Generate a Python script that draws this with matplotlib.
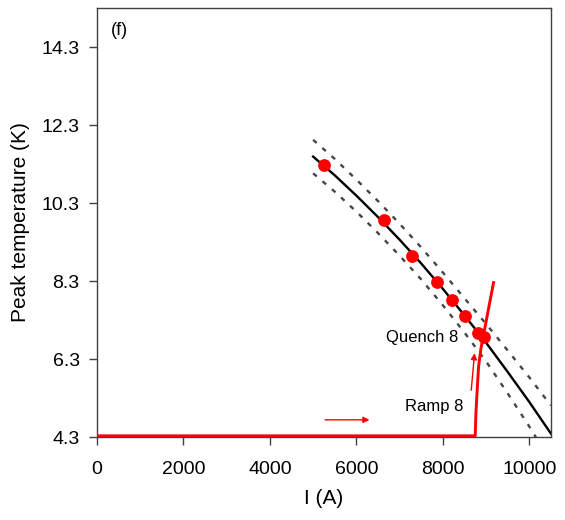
import matplotlib
matplotlib.use("Agg")
import matplotlib.pyplot as plt

plt.rcParams['font.family'] = ['Liberation Sans', 'DejaVu Sans']

# Measured peak temperatures
meas_I = [5255, 6644, 7292, 7871, 8218, 8519, 8820, 8959]
meas_T = [11.27, 9.86, 8.94, 8.27, 7.81, 7.40, 6.97, 6.86]

# Fit curve and band
fit_I = [5000, 5500, 6000, 6500, 7000, 7500, 8000, 8500, 9000, 9500, 10000, 10500]
fit_T = [11.49, 11.01, 10.49, 9.94, 9.36, 8.75, 8.10, 7.42, 6.72, 5.97, 5.20, 4.39]
upper_T = [11.92, 11.43, 10.90, 10.35, 9.77, 9.16, 8.52, 7.86, 7.20, 6.52, 5.83, 5.11]
lower_T = [11.06, 10.59, 10.08, 9.53, 8.95, 8.34, 7.68, 6.98, 6.24, 5.42, 4.57, 3.67]

# Ramp 8 trace
ramp_I = [0, 8750, 8765, 8800, 8827, 8882, 9174]
ramp_T = [4.33, 4.33, 4.9, 5.6, 6.10, 6.57, 8.26]

x_ticks = [0, 2000, 4000, 6000, 8000, 10000]
y_ticks = [4.3, 6.3, 8.3, 10.3, 12.3, 14.3]

fig = plt.figure(figsize=(5.65, 5.2), dpi=100)
ax = fig.add_axes([0.1717, 0.1596, 0.8033, 0.825])

band_style = dict(color='#454545', lw=1.7, linestyle=(0, (2.0, 3.2)))
ax.plot(fit_I, upper_T, **band_style)
ax.plot(fit_I, lower_T, **band_style)
ax.plot(fit_I, fit_T, color='black', lw=1.7, zorder=3)
ax.plot(ramp_I, ramp_T, color='red', lw=2.1, zorder=4)
ax.plot(meas_I, meas_T, 'o', color='red', ms=9.2, mec='none', zorder=5)

arrow = dict(arrowstyle='-|>', color='red', lw=1.0, mutation_scale=9,
             shrinkA=0, shrinkB=0)
ax.annotate('', xy=(6304, 4.74), xytext=(5278, 4.74), arrowprops=arrow)
ax.annotate('', xy=(8734, 6.45), xytext=(8658, 5.50), arrowprops=arrow)

ax.text(8364, 6.86, 'Quench 8', ha='right', va='center', fontsize=12)
ax.text(8480, 5.08, 'Ramp 8', ha='right', va='center', fontsize=12)
ax.text(0.03, 0.967, '(f)', transform=ax.transAxes, ha='left', va='top', fontsize=13)

ax.set_xlim(0, 10500)
ax.set_ylim(4.3, 15.3)
ax.set_xticks(x_ticks)
ax.set_yticks(y_ticks)
ax.set_yticklabels([f'{v:.1f}' for v in y_ticks])
ax.tick_params(direction='out', length=6, width=1, labelsize=14,
               color='#404040', top=False, right=False)
ax.tick_params(axis='x', pad=11)
ax.tick_params(axis='y', pad=6.5)
for s in ax.spines.values():
    s.set_color('#404040')
    s.set_linewidth(1.0)

ax.set_xlabel('I (A)', fontsize=15, labelpad=8)
ax.set_ylabel('Peak temperature (K)', fontsize=15, labelpad=8)

fig.savefig('out.png', dpi=100)
